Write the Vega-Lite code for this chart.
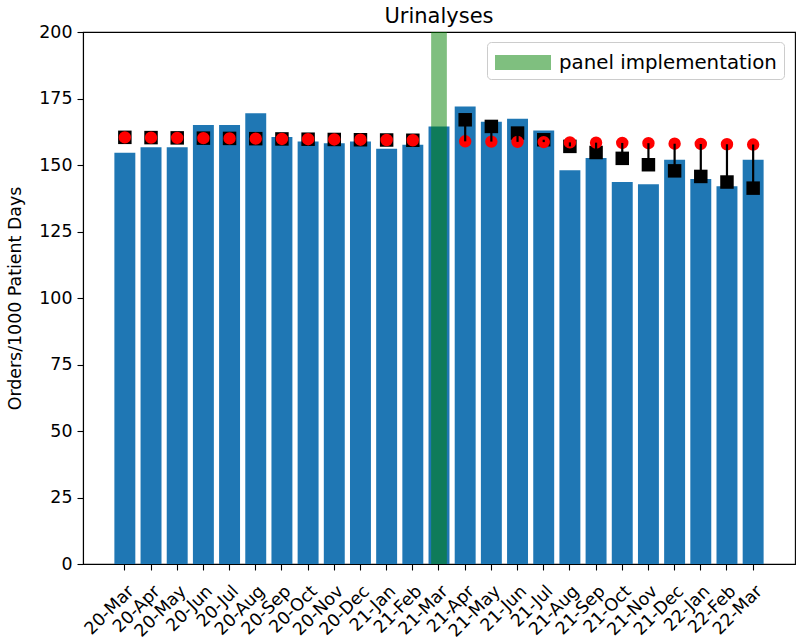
{
  "$schema": "https://vega.github.io/schema/vega-lite/v6.json",
  "width": 712,
  "height": 532,
  "autosize": {"type": "none"},
  "padding": {"left": 83, "top": 32, "right": 5, "bottom": 78},
  "config": {
    "font": "DejaVu Sans",
    "view": {"stroke": "black", "strokeWidth": 1.1},
    "axis": {
      "grid": false,
      "labelFontSize": 17.4,
      "labelColor": "black",
      "tickColor": "black",
      "domainColor": "black",
      "tickSize": 6,
      "tickWidth": 1.1,
      "domainWidth": 1.1,
      "labelPadding": 5,
      "titleFontSize": 17.4,
      "titleFontWeight": "normal",
      "titleColor": "black"
    }
  },
  "title": {"text": "Urinalyses", "fontSize": 21, "fontWeight": "normal", "color": "black", "offset": -4},
  "data": {
    "values": [
      {"month": "20-Mar", "rate": 154.6, "counterfactual": 160.4, "fitted": 160.4, "post": false},
      {"month": "20-Apr", "rate": 156.7, "counterfactual": 160.3, "fitted": 160.3, "post": false},
      {"month": "20-May", "rate": 156.7, "counterfactual": 160.2, "fitted": 160.2, "post": false},
      {"month": "20-Jun", "rate": 165.0, "counterfactual": 160.1, "fitted": 160.1, "post": false},
      {"month": "20-Jul", "rate": 165.0, "counterfactual": 160.0, "fitted": 160.0, "post": false},
      {"month": "20-Aug", "rate": 169.5, "counterfactual": 159.9, "fitted": 159.9, "post": false},
      {"month": "20-Sep", "rate": 160.5, "counterfactual": 159.8, "fitted": 159.8, "post": false},
      {"month": "20-Oct", "rate": 158.8, "counterfactual": 159.7, "fitted": 159.7, "post": false},
      {"month": "20-Nov", "rate": 158.2, "counterfactual": 159.6, "fitted": 159.6, "post": false},
      {"month": "20-Dec", "rate": 158.8, "counterfactual": 159.5, "fitted": 159.5, "post": false},
      {"month": "21-Jan", "rate": 156.1, "counterfactual": 159.4, "fitted": 159.4, "post": false},
      {"month": "21-Feb", "rate": 157.6, "counterfactual": 159.3, "fitted": 159.3, "post": false},
      {"month": "21-Mar", "rate": 164.5, "counterfactual": null, "fitted": null, "post": false},
      {"month": "21-Apr", "rate": 172.0, "counterfactual": 158.9, "fitted": 167.0, "post": true},
      {"month": "21-May", "rate": 166.3, "counterfactual": 158.8, "fitted": 164.5, "post": true},
      {"month": "21-Jun", "rate": 167.4, "counterfactual": 158.7, "fitted": 162.0, "post": true},
      {"month": "21-Jul", "rate": 163.0, "counterfactual": 158.6, "fitted": 159.5, "post": true},
      {"month": "21-Aug", "rate": 148.0, "counterfactual": 158.5, "fitted": 157.0, "post": true},
      {"month": "21-Sep", "rate": 152.6, "counterfactual": 158.4, "fitted": 154.7, "post": true},
      {"month": "21-Oct", "rate": 143.6, "counterfactual": 158.3, "fitted": 152.5, "post": true},
      {"month": "21-Nov", "rate": 142.8, "counterfactual": 158.2, "fitted": 150.1, "post": true},
      {"month": "21-Dec", "rate": 152.0, "counterfactual": 158.0, "fitted": 147.8, "post": true},
      {"month": "22-Jan", "rate": 144.7, "counterfactual": 157.9, "fitted": 145.7, "post": true},
      {"month": "22-Feb", "rate": 142.0, "counterfactual": 157.8, "fitted": 143.6, "post": true},
      {"month": "22-Mar", "rate": 152.0, "counterfactual": 157.7, "fitted": 141.3, "post": true}
    ]
  },
  "encoding": {
    "x": {
      "field": "month",
      "type": "nominal",
      "sort": null,
      "scale": {"paddingInner": 0.2, "paddingOuter": 1, "range": [5.2, 706.8]},
      "axis": {"title": null, "labelAngle": -45, "labelAlign": "right", "labelBaseline": "top", "labelPadding": 12}
    }
  },
  "layer": [
    {
      "mark": {"type": "bar", "color": "#1f77b4"},
      "encoding": {
        "y": {
          "field": "rate",
          "type": "quantitative",
          "scale": {"domain": [0, 200], "nice": false},
          "axis": {"title": "Orders/1000 Patient Days", "values": [0, 25, 50, 75, 100, 125, 150, 175, 200], "titlePadding": 14}
        }
      }
    },
    {
      "transform": [{"filter": "datum.month === '21-Mar'"}],
      "mark": {"type": "bar", "opacity": 0.5, "width": {"band": 0.75}},
      "encoding": {
        "y": {"datum": 0},
        "y2": {"datum": 200},
        "color": {
          "datum": "panel implementation",
          "type": "nominal",
          "scale": {"range": ["#008000"]},
          "legend": {
            "orient": "none",
            "legendX": 404,
            "legendY": 10,
            "title": null,
            "symbolType": "M-2,-0.54L2,-0.54L2,0.54L-2,0.54Z",
            "symbolSize": 784,
            "symbolOpacity": 0.5,
            "symbolStrokeWidth": 0,
            "symbolOffset": 15.5,
            "labelOffset": 22,
            "labelFontSize": 19.8,
            "labelLimit": 400,
            "labelColor": "black",
            "padding": 6.5,
            "fillColor": "white",
            "strokeColor": "#cccccc",
            "cornerRadius": 4
          }
        }
      }
    },
    {
      "mark": {"type": "point", "shape": "square", "filled": true, "color": "black", "opacity": 1, "size": 182},
      "encoding": {"y": {"field": "fitted", "type": "quantitative"}}
    },
    {
      "mark": {"type": "point", "shape": "circle", "filled": true, "color": "red", "opacity": 1, "size": 154},
      "encoding": {"y": {"field": "counterfactual", "type": "quantitative"}}
    },
    {
      "transform": [{"filter": "datum.post"}],
      "mark": {"type": "rule", "color": "black", "strokeWidth": 2.2},
      "encoding": {
        "y": {"field": "counterfactual", "type": "quantitative"},
        "y2": {"field": "fitted"}
      }
    }
  ]
}
